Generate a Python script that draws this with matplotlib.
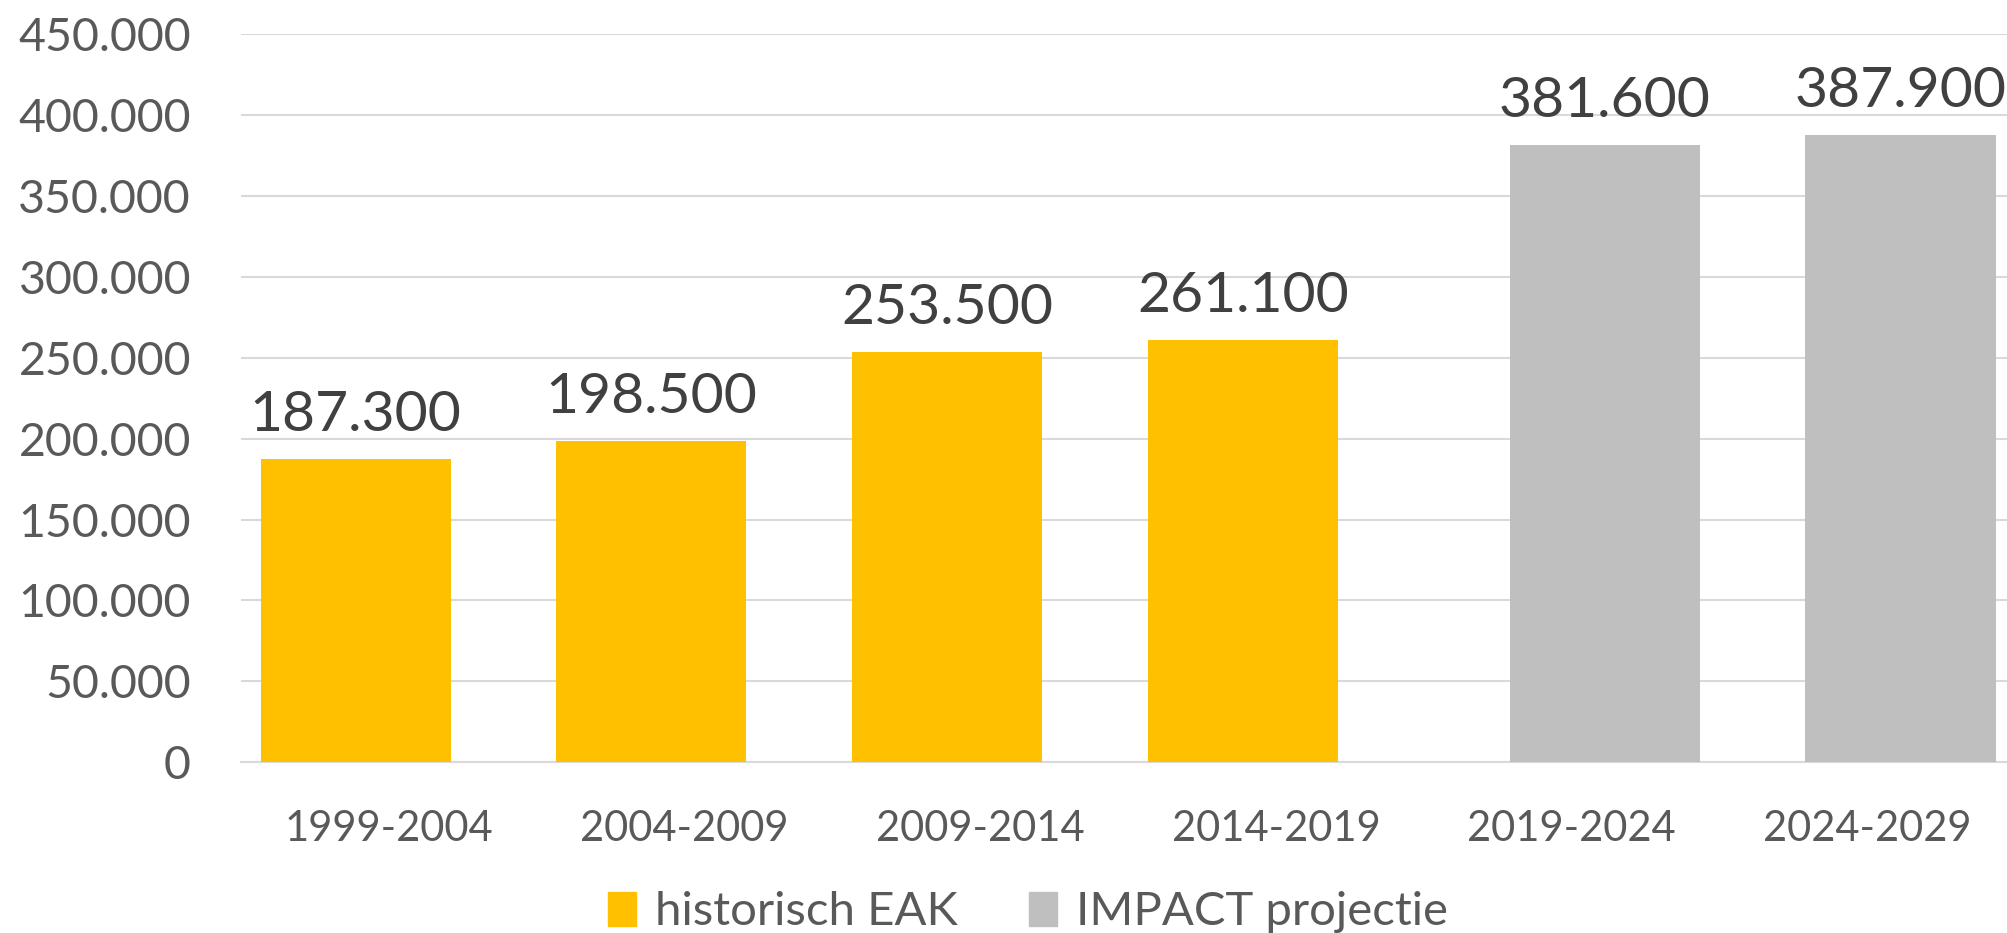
import numpy as np
import matplotlib
matplotlib.use('Agg')
import matplotlib.pyplot as plt
from matplotlib.patches import Patch
from matplotlib.ticker import FuncFormatter

periods = ['1999-2004', '2004-2009', '2009-2014', '2014-2019', '2019-2024', '2024-2029']
historisch = [187300, 198500, 253500, 261100, np.nan, np.nan]
impact = [np.nan, np.nan, np.nan, np.nan, 381600, 387900]
series_names = ['historisch EAK', 'IMPACT projectie']

YELLOW = '#FFC000'
GREY = '#BFBFBF'
GRID = '#D9D9D9'
TICK_COL = '#595959'
LABEL_COL = '#404040'

plt.rcParams['font.family'] = ['Lato', 'DejaVu Sans']


def dutch(v):
    return f'{v:,.0f}'.replace(',', '.')


fig = plt.figure(figsize=(20.08, 9.33), dpi=100)
W, H = 2008, 933
left, right, y0, ytop = 241, 2008, 762.3, 34
ax = fig.add_axes([left / W, (H - y0) / H, (right - left) / W, (y0 - ytop) / H])

x = np.arange(len(periods))
width, shift = 0.643, 0.112
b1 = ax.bar(x - shift, historisch, width, color=YELLOW, zorder=3)
b2 = ax.bar(x + shift, impact, width, color=GREY, zorder=3)

for bars in (b1, b2):
    for rect in bars:
        h = rect.get_height()
        if np.isnan(h):
            continue
        ax.annotate(dutch(h), (rect.get_x() + rect.get_width() / 2, h),
                    xytext=(0, 20), textcoords='offset points',
                    ha='center', va='baseline', fontsize=41, color=LABEL_COL,
                    annotation_clip=False)

ax.set_ylim(0, 450000)
ax.set_xlim(-0.5, -0.5 + (right - left) / 295.7)
ax.set_yticks(np.arange(0, 450001, 50000))
ax.yaxis.set_major_formatter(FuncFormatter(lambda v, p: dutch(v)))
ax.set_xticks(x)
ax.set_xticklabels(periods)
ax.tick_params(axis='y', length=0, pad=36, labelsize=33.5, labelcolor=TICK_COL)
ax.tick_params(axis='x', length=0, pad=34, labelsize=30, labelcolor=TICK_COL)
ax.grid(axis='y', color=GRID, lw=1.5, zorder=0)
for s in ['top', 'right', 'left']:
    ax.spines[s].set_visible(False)
ax.spines['bottom'].set_color(GRID)
ax.spines['bottom'].set_linewidth(1.5)

handles = [Patch(color=YELLOW), Patch(color=GREY)]
fig.legend(handles, series_names, loc='center', bbox_to_anchor=(0.512, 0.022),
           ncol=2, frameon=False, fontsize=34, labelcolor=TICK_COL,
           handlelength=0.6, handleheight=0.75, handletextpad=0.4, columnspacing=1.5)

plt.savefig('out.png', dpi=100)
plt.close()
